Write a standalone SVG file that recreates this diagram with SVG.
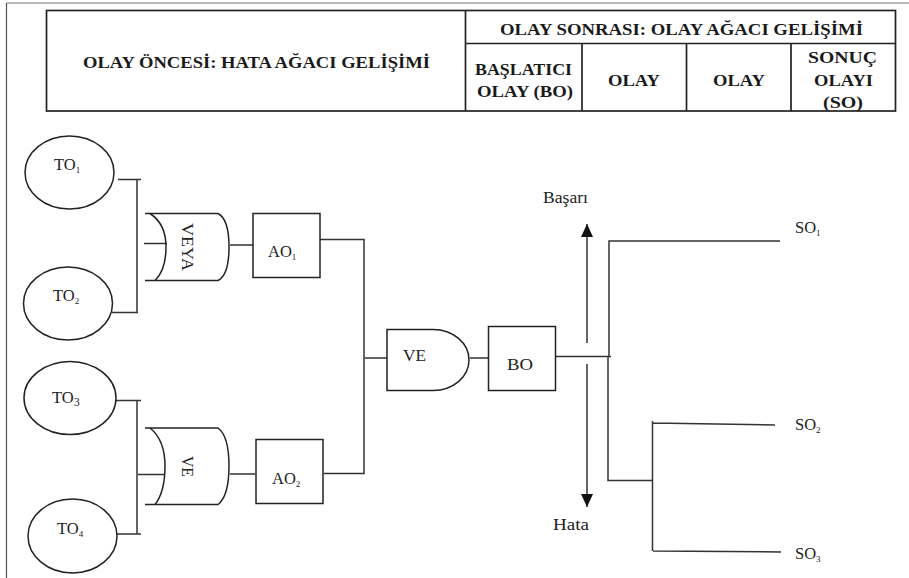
<svg xmlns="http://www.w3.org/2000/svg" width="909" height="578" viewBox="0 0 909 578">
<style>
text{font-family:"Liberation Serif","Times New Roman",serif;fill:#222}
.h{font-weight:bold;font-size:17.500px;fill:#1a1a1a}
.n{font-size:16.500px}
.s{font-size:9px}
.l{fill:none;stroke:#333;stroke-width:1.5}
.b{fill:#fff;stroke:#222;stroke-width:1.5}
.g{fill:none;stroke:#222;stroke-width:1.5}
.t{fill:none;stroke:#222;stroke-width:1.7}
</style>
<defs>
<marker id="arrow" markerUnits="userSpaceOnUse" markerWidth="13" markerHeight="13" refX="13" refY="6" orient="auto"><path d="M0 0L13 6L0 12Z" fill="#111"/></marker>
</defs>
<rect width="909" height="578" fill="#fff"/>
<path fill="none" stroke="#777" stroke-width="1.200" d="M909 3H6.500"/>
<path fill="none" stroke="#555" stroke-width="1.200" d="M6.500 3V578"/>
<g id="table">
<rect class="t" x="46.500" y="10.500" width="849" height="100.500"/>
<path class="t" d="M465.500 10.500V111M465.500 43.500H895.500M582 43.500V111M686.500 43.500V111M791 43.500V111"/>
<text class="h" x="83" y="68" textLength="347" lengthAdjust="spacingAndGlyphs">OLAY ÖNCESİ: HATA AĞACI GELİŞİMİ</text>
<text class="h" x="500" y="35" textLength="363" lengthAdjust="spacingAndGlyphs">OLAY SONRASI: OLAY AĞACI GELİŞİMİ</text>
<text class="h" x="475" y="75" textLength="97" lengthAdjust="spacingAndGlyphs">BAŞLATICI</text>
<text class="h" x="477" y="97" textLength="96" lengthAdjust="spacingAndGlyphs">OLAY (BO)</text>
<text class="h" x="608" y="86" textLength="52" lengthAdjust="spacingAndGlyphs">OLAY</text>
<text class="h" x="713" y="86" textLength="52" lengthAdjust="spacingAndGlyphs">OLAY</text>
<text class="h" x="808" y="63" textLength="69" lengthAdjust="spacingAndGlyphs">SONUÇ</text>
<text class="h" x="814" y="86" textLength="59" lengthAdjust="spacingAndGlyphs">OLAYI</text>
<text class="h" x="823" y="108" textLength="40" lengthAdjust="spacingAndGlyphs">(SO)</text>
</g>
<g id="connectors">
<path class="l" d="M118 179.500H141M137 179.500V312M112 312.500H138M144 243.500H167M230 245H255"/>
<path class="l" d="M116 400.500H141M137 400.500V534M116 534H141M138 474.500H164M230 474H255"/>
<path class="l" d="M320 239.500H364V473.500H324M365 358H387M470 358H488"/>
<path class="l" d="M556 356.500H611M609 356V241H780M608 356V480.500H653M652.500 421V551M653 423L775 425M653 551L781 552"/>
<path class="l" marker-end="url(#arrow)" d="M587 343V224"/>
<path class="l" marker-end="url(#arrow)" d="M587 364V507"/>
</g>
<g id="to1"><ellipse class="b" cx="69.500" cy="172.500" rx="44.500" ry="36.500"/><text class="n" x="54" y="170">TO<tspan class="s" dy="3">1</tspan></text></g>
<g id="to2"><ellipse class="b" cx="68" cy="303.500" rx="44.500" ry="36.500"/><text class="n" x="53" y="301">TO<tspan class="s" dy="3">2</tspan></text></g>
<g id="to3"><ellipse class="b" cx="70" cy="398" rx="46" ry="36.500"/><text class="n" x="52" y="403">TO<tspan style="font-size:12px" dy="3">3</tspan></text></g>
<g id="to4"><ellipse class="b" cx="72.500" cy="536" rx="44.500" ry="37"/><text class="n" x="57" y="534">TO<tspan class="s" dy="3">4</tspan></text></g>
<g id="veya">
<path class="g" d="M145 213.500H218Q229 219 229 247Q229 275 218 280.500H145"/>
<path class="g" d="M150 213.500Q166 224 166 247Q166 270 155 280.500"/>
<text class="n" transform="translate(182 223) rotate(90)" textLength="48" lengthAdjust="spacingAndGlyphs">VEYA</text>
</g>
<g id="ve1">
<path class="g" d="M145 428H218Q229 436 229 466Q229 496 218 504.500H145"/>
<path class="g" d="M150 428Q165 440 165 466Q165 492 155 504.500"/>
<text class="n" transform="translate(182 456) rotate(90)" textLength="21" lengthAdjust="spacingAndGlyphs">VE</text>
</g>
<g id="ao1"><rect class="b" x="253" y="213.500" width="67" height="64"/><text class="n" x="268" y="257">AO<tspan class="s" dy="3">1</tspan></text></g>
<g id="ao2"><rect class="b" x="256" y="439.500" width="67" height="64"/><text class="n" x="272" y="484">AO<tspan class="s" dy="3">2</tspan></text></g>
<g id="ve2">
<path class="b" d="M387 329.500H433C453 329.500 469 343 469 360C469 377 453 390.500 433 390.500H387Z"/>
<text class="n" x="403" y="361" textLength="23" lengthAdjust="spacingAndGlyphs">VE</text>
</g>
<g id="bo"><rect class="b" x="488.500" y="326.500" width="67" height="64"/><text class="n" x="507" y="370" textLength="26" lengthAdjust="spacingAndGlyphs">BO</text></g>
<g id="labels">
<text class="n" x="543" y="203" textLength="45" lengthAdjust="spacingAndGlyphs">Başarı</text>
<text class="n" x="553" y="530" textLength="36" lengthAdjust="spacingAndGlyphs">Hata</text>
</g>
<g id="so1"><text class="n" x="795" y="233">SO<tspan class="s" dy="3">1</tspan></text></g>
<g id="so2"><text class="n" x="795" y="430">SO<tspan class="s" dy="3">2</tspan></text></g>
<g id="so3"><text class="n" x="795" y="559">SO<tspan class="s" dy="3">3</tspan></text></g>
</svg>
